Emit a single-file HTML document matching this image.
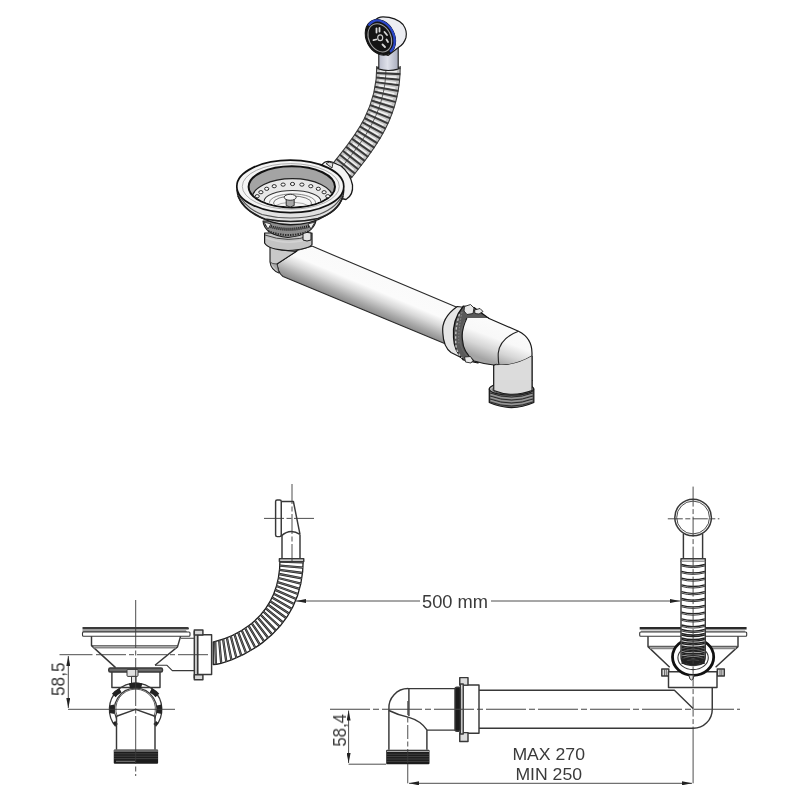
<!DOCTYPE html>
<html><head><meta charset="utf-8">
<style>
html,body{margin:0;padding:0;background:#fff;width:800px;height:800px;overflow:hidden}
svg{display:block}
text{font-family:"Liberation Sans",sans-serif;fill:#3a3a3a}
#texts{will-change:transform}
</style></head><body>
<svg width="800" height="800" viewBox="0 0 800 800">
<defs>
  <linearGradient id="pipeG" gradientUnits="userSpaceOnUse" x1="370" y1="270.6" x2="355" y2="306.2">
    <stop offset="0" stop-color="#fafafa"/>
    <stop offset="0.4" stop-color="#fbfbfb"/>
    <stop offset="0.62" stop-color="#d8d8d8"/>
    <stop offset="0.85" stop-color="#a8a8a8"/>
    <stop offset="1" stop-color="#8c8c8c"/>
  </linearGradient>
  <marker id="arr" viewBox="0 0 10 4" refX="10" refY="2" markerWidth="10" markerHeight="4" markerUnits="userSpaceOnUse" orient="auto">
    <path d="M0 0 L10 2 L0 4 Z" fill="#222"/>
  </marker>
  <marker id="arrS" viewBox="0 0 10 4" refX="0" refY="2" markerWidth="10" markerHeight="4" markerUnits="userSpaceOnUse" orient="auto">
    <path d="M10 0 L0 2 L10 4 Z" fill="#222"/>
  </marker>
  <linearGradient id="pipeG2" gradientUnits="userSpaceOnUse" x1="500" y1="323" x2="486" y2="360">
    <stop offset="0" stop-color="#fbfbfb"/>
    <stop offset="0.4" stop-color="#f8f8f8"/>
    <stop offset="0.7" stop-color="#d6d6d6"/>
    <stop offset="1" stop-color="#a4a4a4"/>
  </linearGradient>
  <linearGradient id="neckG" x1="0" y1="0" x2="1" y2="0">
    <stop offset="0" stop-color="#b9bccb"/>
    <stop offset="0.45" stop-color="#dfe1ea"/>
    <stop offset="1" stop-color="#a9adbd"/>
  </linearGradient>
</defs>

<!-- ============ BOTTOM DRAWINGS ============ -->
<g id="bottom" fill="none" stroke="#383838" stroke-width="1.45" stroke-linejoin="round">
  <!-- ===== LEFT SINK SIDE VIEW ===== -->
  <path d="M82.5 626.9 H187.5 Q189.8 627.4 188.5 629.6 H82.5 Z" fill="#3a3a3a" stroke="none"/>
  <path d="M82.5 630.5 H186 L187 631.7 H82.5 Z" fill="#444" stroke="none"/>
  <rect x="82.5" y="632" width="107.5" height="4.3" rx="1" stroke-width="1.1"/>
  <path d="M91.5 636.3 V645.6 L115.6 667.6 M155 665.3 L177.5 646.9 L180.6 636.3"/>
  <path d="M92 645.8 H178" stroke-width="1"/>
  <path d="M93.5 647.6 H176" stroke="#888" stroke-width="2"/>
  <path d="M181 638.2 H194.3 M155 665.3 H167 L172.3 670.6 H194.3" stroke-width="1.1"/>
  <rect x="108.75" y="668" width="53.75" height="4" rx="1.5" fill="#6a6a6a"/>
  <path d="M111.9 672 V687.5 H160 V672"/>
  <rect x="127" y="669.4" width="11" height="7" rx="1" fill="#e0e0e0" stroke-width="1"/>
  <rect x="131.5" y="676.4" width="4.5" height="8" fill="#e8e8e8" stroke-width="1"/>
  <rect x="130.5" y="683" width="7" height="3.5" fill="#222" stroke="none"/>
  <!-- ring -->
  <path d="M115.6 726.3 A26.2 26.2 0 1 1 155.6 726.3" stroke-width="1.3"/>
  <path d="M116.5 718.6 A21.2 21.2 0 1 1 154.7 718.6" stroke-width="1.2"/>
  <path d="M117.3 716.5 A19.8 19.8 0 1 1 153.9 716.5" stroke-width="0.8"/>
  <g stroke="#222" stroke-width="5">
    <path d="M129.5 685.9 A23.8 23.8 0 0 1 141.7 685.9"/>
    <path d="M113.8 695.5 A23.8 23.8 0 0 1 120.4 690.3"/>
    <path d="M111.8 705 A23.8 23.8 0 0 1 112 713.5"/>
    <path d="M150.8 690.3 A23.8 23.8 0 0 1 157.4 695.5"/>
    <path d="M159.2 705 A23.8 23.8 0 0 1 159.2 713.5"/>
    <path d="M114 722 A23.8 23.8 0 0 0 116.8 725" stroke-width="3"/>
    <path d="M157.2 722 A23.8 23.8 0 0 1 154.4 725" stroke-width="3"/>
  </g>
  <path d="M116.5 716.3 L135.6 709.4 L155 716.3 M116.5 716 V749.4 M155 716 V749.4"/>
  <rect x="113.75" y="749.4" width="44.35" height="14.4" rx="1" fill="#1c1c1c" stroke="none"/>
  <path d="M114 751 H158" stroke="#aaa" stroke-width="1.2"/><path d="M114 753.8 H158" stroke="#5a5a5a" stroke-width="0.6"/><path d="M114 756.2 H158" stroke="#5a5a5a" stroke-width="0.6"/><path d="M114 758.6 H158" stroke="#5a5a5a" stroke-width="0.6"/>
  <path d="M116 761.3 H135" stroke="#999" stroke-width="0.8"/>
  <!-- fitting -->
  <rect x="197.6" y="634.7" width="14" height="39.8" fill="#fff"/>
  <rect x="194.3" y="631.5" width="3.3" height="46.5" fill="#d0d0d0"/>
  <rect x="194.3" y="629.9" width="8.6" height="5" fill="#d8d8d8"/>
  <rect x="194.3" y="674.7" width="8.6" height="5" fill="#d8d8d8"/>
  <!-- hose BL -->
  <path d="M303.25 559.5 C303.25 641.2 224.6 664.5 213.25 664.5 L213.25 642 C211.8 642 280 631.15 280 559.5 Z" fill="#fff" stroke="#1e1e1e" stroke-width="1.3"/>
  <path d="M303.2 562.3 L280.0 561.6 M303.0 567.6 L279.8 565.7 M302.5 573.0 L279.5 569.8 M301.8 578.3 L279.0 574.0 M300.8 583.6 L278.3 578.0 M299.5 588.8 L277.5 582.1 M297.9 594.0 L276.4 586.0 M296.1 599.0 L275.2 589.9 M294.0 604.0 L273.7 593.8 M291.6 608.8 L272.0 597.6 M289.0 613.5 L270.2 601.2 M286.1 618.0 L268.1 604.8 M283.0 622.4 L265.8 608.3 M279.6 626.5 L263.3 611.5 M276.0 630.6 L260.7 614.7 M272.2 634.4 L257.9 617.7 M268.2 638.0 L254.9 620.6 M264.1 641.4 L251.8 623.3 M259.8 644.7 L248.6 625.8 M255.3 647.7 L245.2 628.2 M250.8 650.5 L241.7 630.4 M246.1 653.2 L238.2 632.5 M241.3 655.6 L234.5 634.4 M236.4 657.8 L230.8 636.2 M231.4 659.8 L226.9 637.8 M226.3 661.6 L223.1 639.2 M221.2 663.1 L219.2 640.4 M215.9 664.3 L215.2 641.5" stroke="#222" stroke-width="2.3"/><path d="M303.2 562.3 L280.0 561.6 M303.0 567.6 L279.8 565.7 M302.5 573.0 L279.5 569.8 M301.8 578.3 L279.0 574.0 M300.8 583.6 L278.3 578.0 M299.5 588.8 L277.5 582.1 M297.9 594.0 L276.4 586.0 M296.1 599.0 L275.2 589.9 M294.0 604.0 L273.7 593.8 M291.6 608.8 L272.0 597.6 M289.0 613.5 L270.2 601.2 M286.1 618.0 L268.1 604.8 M283.0 622.4 L265.8 608.3 M279.6 626.5 L263.3 611.5 M276.0 630.6 L260.7 614.7 M272.2 634.4 L257.9 617.7 M268.2 638.0 L254.9 620.6 M264.1 641.4 L251.8 623.3 M259.8 644.7 L248.6 625.8 M255.3 647.7 L245.2 628.2 M250.8 650.5 L241.7 630.4 M246.1 653.2 L238.2 632.5 M241.3 655.6 L234.5 634.4 M236.4 657.8 L230.8 636.2 M231.4 659.8 L226.9 637.8 M226.3 661.6 L223.1 639.2 M221.2 663.1 L219.2 640.4 M215.9 664.3 L215.2 641.5" stroke="#bbb" stroke-width="0.5"/>
  <!-- overflow head BL -->
  <rect x="275.6" y="500" width="5.65" height="36.6" rx="1.5" fill="#fff"/>
  <path d="M281.25 501.5 H293.4 L300 534.4 M281.25 536 Q290 528 300 534.4"/>
  <path d="M282 535 V559 M300 534.4 V559"/>
  <rect x="279.4" y="558.75" width="24.35" height="2.75" fill="#fff"/>

  <!-- ===== RIGHT SIDE ===== -->
  <circle cx="693.1" cy="517.5" r="18.3" stroke-width="1.5"/>
  <circle cx="693.1" cy="517.5" r="16.4" stroke-width="0.9"/>
  <path d="M683.4 533.4 V558.75 M702.6 533.4 V558.75"/>
  <rect x="681" y="558.75" width="24.3" height="2.75" fill="#fff"/>
  <!-- flange -->
  <path d="M639.7 626.9 H746.6 V629.6 H639.7 Z" fill="#2a2a2a" stroke="none"/>
  <path d="M641 630.8 H745 V631.6 H641 Z" fill="#555" stroke="none"/>
  <rect x="639.7" y="632" width="107" height="4.3" rx="1" stroke-width="1.1"/>
  <path d="M648 636.3 V646.6 L669.7 667.2 M715.6 667.2 L738 646.6 V636.3"/>
  <path d="M648.5 646.3 H737.5" stroke-width="1"/>
  <path d="M650 648.2 H736" stroke="#888" stroke-width="2"/>
  <!-- nut -->
  <rect x="661.8" y="669" width="7" height="7" fill="#ddd"/>
  <path d="M664.5 669.5 V676 M666.3 669.5 V676" stroke-width="0.7"/>
  <rect x="717.3" y="669" width="7" height="7" fill="#ddd"/>
  <path d="M720 669.5 V676 M721.8 669.5 V676" stroke-width="0.7"/>
  <rect x="668.5" y="671.7" width="48.5" height="15.8" fill="#fff"/>
  <ellipse cx="693.1" cy="657" rx="20.6" ry="18.3" stroke="#111" stroke-width="2.8" fill="#fff"/>
  <ellipse cx="693.1" cy="657.8" rx="15.2" ry="11.8" stroke-width="1.1"/>
  <path d="M689 675.5 Q689.5 680 691.5 680 Q693.5 680 694 675.5" fill="#ddd" stroke-width="1"/>
  <!-- hose BR -->
  <path d="M681 561.5 V657 Q681 665.5 693.1 665.5 Q705.3 665.5 705.3 657 V561.5" fill="#fff" stroke-width="1.4"/>
  <g id="ribsBR" stroke="#222"><path d="M681.5 564.5 Q693 567.7 704.8 564.5" stroke-width="1.3"/><path d="M681.5 566.0 Q693 569.2 704.8 566.0" stroke-width="0.9"/><path d="M681.5 571.3 Q693 574.5 704.8 571.3" stroke-width="1.3"/><path d="M681.5 572.8 Q693 576.0 704.8 572.8" stroke-width="0.9"/><path d="M681.5 578.1 Q693 581.3 704.8 578.1" stroke-width="1.3"/><path d="M681.5 579.6 Q693 582.8 704.8 579.6" stroke-width="0.9"/><path d="M681.5 584.9 Q693 588.1 704.8 584.9" stroke-width="1.3"/><path d="M681.5 586.4 Q693 589.6 704.8 586.4" stroke-width="0.9"/><path d="M681.5 591.7 Q693 594.9 704.8 591.7" stroke-width="1.3"/><path d="M681.5 593.2 Q693 596.4 704.8 593.2" stroke-width="0.9"/><path d="M681.5 598.5 Q693 601.7 704.8 598.5" stroke-width="1.3"/><path d="M681.5 600.0 Q693 603.2 704.8 600.0" stroke-width="0.9"/><path d="M681.5 605.3 Q693 608.5 704.8 605.3" stroke-width="1.3"/><path d="M681.5 606.8 Q693 610.0 704.8 606.8" stroke-width="0.9"/><path d="M681.5 612.1 Q693 615.3 704.8 612.1" stroke-width="1.3"/><path d="M681.5 613.6 Q693 616.8 704.8 613.6" stroke-width="0.9"/><path d="M681.5 618.9 Q693 622.1 704.8 618.9" stroke-width="1.3"/><path d="M681.5 620.4 Q693 623.6 704.8 620.4" stroke-width="0.9"/><path d="M681.5 625.0 Q693 628.2 704.8 625.0" stroke-width="1.3"/><path d="M681.5 626.5 Q693 629.7 704.8 626.5" stroke-width="0.9"/><path d="M681.5 629.5 Q693 632.7 704.8 629.5" stroke-width="1.3"/><path d="M681.5 631.0 Q693 634.2 704.8 631.0" stroke-width="0.9"/><path d="M681.5 633.5 Q693 636.7 704.8 633.5" stroke-width="1.7"/><path d="M681.5 635.0 Q693 638.2 704.8 635.0" stroke-width="1.3"/><path d="M681.5 638.0 Q693 641.2 704.8 638.0" stroke-width="1.7"/><path d="M681.5 639.5 Q693 642.7 704.8 639.5" stroke-width="1.3"/><path d="M681.5 642.0 Q693 644.6 704.8 642.0" stroke-width="1.7"/><path d="M681.5 643.5 Q693 646.1 704.8 643.5" stroke-width="1.3"/><path d="M681.5 646.0 Q693 648.6 704.8 646.0" stroke-width="1.7"/><path d="M681.5 647.5 Q693 650.1 704.8 647.5" stroke-width="1.3"/><path d="M681.5 649.0 Q693 651.6 704.8 649.0" stroke-width="1.7"/><path d="M681.5 650.5 Q693 653.1 704.8 650.5" stroke-width="1.3"/><path d="M681.5 652.6 Q693 655.2 704.8 652.6" stroke-width="1.7"/><path d="M681.5 654.1 Q693 656.7 704.8 654.1" stroke-width="1.3"/><path d="M681.5 656.0 Q693 658.6 704.8 656.0" stroke-width="1.7"/><path d="M681.5 657.5 Q693 660.1 704.8 657.5" stroke-width="1.3"/><path d="M681.5 658.8 Q693 661.4 704.8 658.8" stroke-width="1.7"/><path d="M681.5 660.3 Q693 662.9 704.8 660.3" stroke-width="1.3"/><path d="M681.5 661.6 Q693 664.2 704.8 661.6" stroke-width="1.7"/><path d="M681.5 663.1 Q693 665.7 704.8 663.1" stroke-width="1.3"/></g>
  <path d="M684 660 Q693 668 702 660" stroke="#222" stroke-width="2.5"/>
  <!-- pipe -->
  <path d="M479 690.3 H674.4 L693.1 708.4"/>
  <path d="M712.25 687.8 V709.4 A19 19 0 0 1 693.2 728.3 H479"/>
  <!-- elbow -->
  <path d="M455.35 688.6 H408.2 A19.3 19.3 0 0 0 388.9 709.2 V749.75"/>
  <path d="M408.9 688.6 V716"/>
  <path d="M388.9 710.5 C395 713.5 402 716 408.9 717.4 C418 720 423.5 725 426.9 729.8 V749.75 M427 730.1 H455"/>
  <rect x="386.2" y="749.75" width="43.3" height="14.45" rx="1" fill="#1c1c1c" stroke="none"/>
  <path d="M387 751.3 H429" stroke="#aaa" stroke-width="1.2"/><path d="M386.5 754.2 H429" stroke="#5a5a5a" stroke-width="0.6"/><path d="M386.5 756.6 H429" stroke="#5a5a5a" stroke-width="0.6"/><path d="M386.5 759.0 H429" stroke="#5a5a5a" stroke-width="0.6"/><path d="M386.5 761.4 H429" stroke="#5a5a5a" stroke-width="0.6"/>
  <!-- coupling -->
  <rect x="462.5" y="685" width="16.5" height="48.25" fill="#fff"/>
  <rect x="459.75" y="677.6" width="8.25" height="7.5" fill="#ddd"/>
  <rect x="459.75" y="732.6" width="8.25" height="8.9" fill="#ddd"/>
  <rect x="460.4" y="684" width="2.8" height="50" fill="#eee"/>
  <rect x="455" y="687.2" width="5.4" height="44" rx="2" fill="#1c1c1c"/>
  <!-- ===== centerlines / dims (thin) ===== -->
  <g stroke="#3a3a3a" stroke-width="0.9">
    <path d="M135.7 600 V776" stroke-dasharray="48 2.5 5 2.5"/>
    <path d="M59.5 654.7 H92.5"/>
    <path d="M96 654.7 H212" stroke-dasharray="30 3 5 3"/>
    <path d="M68 709.3 H175"/>
    <path d="M68.3 656 V708" marker-start="url(#arrS)" marker-end="url(#arr)"/>
    <path d="M292 484 V561" stroke-dasharray="20 2.5 5 2.5"/>
    <path d="M264 518.4 H315" stroke-dasharray="20 2.5 5 2.5"/>
    <path d="M296 601 H420" marker-start="url(#arrS)"/>
    <path d="M491 601 H680" marker-end="url(#arr)"/>
    <path d="M693.1 486.6 V728" stroke-dasharray="20 2.5 5 2.5"/>
    <path d="M693.1 728 V783.3"/>
    <path d="M667.8 518.8 H719.4" stroke-dasharray="15 2.5 5 2.5"/>
    <path d="M330 709.2 H740" stroke-dasharray="40 3 6 3" stroke="#444" stroke-width="1.15"/>
    <path d="M348.6 710.5 V763" marker-start="url(#arrS)" marker-end="url(#arr)"/>
    <path d="M348.6 764.2 H386.2"/>
    <path d="M407.75 701 V764" stroke-dasharray="14 2.5 5 2.5"/><path d="M407.75 764 V783.3"/>
    <path d="M409 783.3 H692" marker-start="url(#arrS)" marker-end="url(#arr)"/>
  </g>

</g>


<g id="texts" font-size="18">
  <text x="422" y="608" textLength="66" lengthAdjust="spacingAndGlyphs">500 mm</text>
  <text x="512.4" y="759.6" font-size="17.3" textLength="72.6" lengthAdjust="spacingAndGlyphs">MAX 270</text>
  <text x="515.4" y="780" font-size="17.3" textLength="66.6" lengthAdjust="spacingAndGlyphs">MIN 250</text>
  <text transform="translate(64.5 696) rotate(-90)" font-size="18.5" textLength="33.5" lengthAdjust="spacingAndGlyphs">58,5</text>
  <text transform="translate(346 746.6) rotate(-90)" font-size="18.5" textLength="32.6" lengthAdjust="spacingAndGlyphs">58,4</text>
</g>
<!-- ============ TOP 3D RENDER ============ -->
<g id="top" stroke-linejoin="round">
  <!-- long pipe -->
  <path d="M277 262 L297 250.5 L311.9 246.1 L461 309 L447 344.5 L283 276.5 Q277 272 277 262 Z" fill="url(#pipeG)" stroke="#2a2a2a" stroke-width="1.1"/>
  <path d="M277 264 L297 251" stroke="#333" stroke-width="1" fill="none"/>
  <!-- elbow under strainer -->
  <path d="M270 246 V262 Q271 270 279 273 L277 264 L297 251 Q284 252 270 246 Z" fill="#c9c9c9" stroke="#1a1a1a" stroke-width="1.1"/>
  <path d="M270 262 Q272 264 277 264 L279 273" fill="#a8a8a8" stroke="#333" stroke-width="0.8"/>
  <!-- cylinder under strainer -->
  <path d="M264.6 233 V243 Q268 249.5 288 250.5 Q308 249.5 312 244.5 V233 Z" fill="#c4c4c4" stroke="#1a1a1a" stroke-width="1.2"/>
  <path d="M265 235 Q288 243.5 311.5 235.5" fill="none" stroke="#444" stroke-width="1"/>
  <path d="M266 238 Q288 246 311 238.5" fill="none" stroke="#d8d8d8" stroke-width="1.5" opacity="0.7"/>
  <!-- nut under rim -->
  <path d="M263 221 Q264 235 288 237.5 Q313 235 316 221 Z" fill="#8c8c8c" stroke="#1a1a1a" stroke-width="1.1"/>
  <path d="M265 224.5 Q288 234 314 224.5" fill="none" stroke="#1e1e1e" stroke-width="3" stroke-dasharray="1.1 0.9"/>
  <path d="M268 231 Q288 239 310 231" fill="none" stroke="#2a2a2a" stroke-width="2" stroke-dasharray="1.4 1.1"/>
  <path d="M264 222 L268 229 L271 224 Z M315 222 L311 229 L308 224 Z" fill="#f0f0f0" stroke="#222" stroke-width="0.8"/>
  <path d="M303 233.5 Q307 231.5 311 233 V240 Q307 242 303 240 Z" fill="#e4e4e4" stroke="#1a1a1a" stroke-width="1"/>
  <!-- hose top -->
  <path d="M342 171 C 358 150 389 118 388.5 66" fill="none" stroke="#3a3a3a" stroke-width="24.5"/>
  <path d="M342 171 C 358 150 389 118 388.5 66" fill="none" stroke="#c4c4c4" stroke-width="22.4"/>
  <path d="M342 171 C 358 150 389 118 388.5 66" fill="none" stroke="#3a3a3a" stroke-width="24" stroke-dasharray="2 3.2"/>
  <path d="M342 171 C 358 150 389 118 388.5 66" fill="none" stroke="#f2f2f2" stroke-width="17" stroke-dasharray="1.4 3.8" stroke-dashoffset="-2.4"/>
  <path d="M340 169.5 C 356 148.5 386.5 117 386 66" fill="none" stroke="#333" stroke-width="0.9" opacity="0.8"/>
  <!-- overflow neck -->
  <path d="M378.8 47 V69 Q388.5 72 398.2 69 V45 Z" fill="url(#neckG)" stroke="#1a1a1a" stroke-width="1.1"/>
  <!-- overflow head -->
  <path d="M374 21 Q378 16.8 383 16.8 Q396 17 403 24.5 Q407.5 31 406 37.5 Q404 44 399 47 L388 55.5 L376 50 Z" fill="#ecedf2" stroke="#1a1a1a" stroke-width="1.2"/>
  <ellipse cx="380.4" cy="37.3" rx="14.2" ry="18.6" transform="rotate(-27 380.4 37.3)" fill="#141414" stroke="#0e0e0e" stroke-width="1"/>
  <ellipse cx="380.6" cy="37.2" rx="13.1" ry="17.5" transform="rotate(-27 380.6 37.2)" fill="none" stroke="#2a46c8" stroke-width="2.3" pathLength="100" stroke-dasharray="54 46" stroke-dashoffset="-69"/>
  <ellipse cx="379.8" cy="37.8" rx="11" ry="14.8" transform="rotate(-27 379.8 37.8)" fill="none" stroke="#a0a0a0" stroke-width="1"/>
  <ellipse cx="380.2" cy="37.8" rx="2.5" ry="2.9" fill="none" stroke="#cfcfcf" stroke-width="1.2"/>
  <g stroke="#d8d8d8" stroke-width="1.8" stroke-linecap="round">
    <path d="M376.5 28.5 V32.5"/><path d="M379.5 28 V31.5"/>
    <path d="M384.5 32 L387 35"/><path d="M386.5 39.5 L388 42"/>
    <path d="M373.5 40.2 L376.2 39.5"/><path d="M382.5 44.5 L385 47"/>
  </g>
  <!-- connector -->
  <path d="M322 165 Q325 160 332 162 L341 166 Q350 173 352.5 185 Q353.5 195 346 199.5 L330 196 Z" fill="#f3f3f3" stroke="#1a1a1a" stroke-width="1.3"/>
  <path d="M326 163.5 Q329 161 333 163 L332 168 Z" fill="#ddd" stroke="#222" stroke-width="0.9"/>
  <!-- strainer rim -->
  <path d="M237 190 Q238 205 255 214 Q270 224.5 290.5 224.8 Q312 224.5 327 215 Q343 206 343.8 190 Z" fill="#e2e2e2" stroke="#1a1a1a" stroke-width="1.4"/>
  <path d="M238 196 Q246 213 265 219 Q278 221.5 290.5 221.5 Q305 221.5 318 218.5 Q338 212 343 196" fill="none" stroke="#222" stroke-width="1.7"/>
  <path d="M238 193 Q245 208 262 214.5 Q276 218 290.5 218 Q307 218 320 214 Q338 207 343 193" fill="none" stroke="#555" stroke-width="1.1"/>
  <ellipse cx="290.3" cy="186.4" rx="53.5" ry="26.2" fill="#f4f4f4" stroke="#111" stroke-width="1.7"/>
  <ellipse cx="290.8" cy="186.4" rx="48.5" ry="22.8" fill="none" stroke="#9a9a9a" stroke-width="0.8"/>
  <!-- opening -->
  <ellipse cx="291.8" cy="186.8" rx="43.2" ry="20.6" fill="#a4a4a4" stroke="#111" stroke-width="2"/>
  <clipPath id="openClip"><ellipse cx="291.8" cy="186.8" rx="42.2" ry="19.6"/></clipPath>
  <g clip-path="url(#openClip)">
    <ellipse cx="292.5" cy="198.5" rx="40.5" ry="19.8" fill="#e8e8e8" stroke="#222" stroke-width="1.3"/>
    <ellipse cx="292.5" cy="201.5" rx="28.5" ry="11" fill="#f6f6f6" stroke="#333" stroke-width="1.1"/>
    <ellipse cx="292.5" cy="202.5" rx="23" ry="8.6" fill="none" stroke="#777" stroke-width="0.9"/>
    <ellipse cx="292.5" cy="203" rx="19" ry="7" fill="none" stroke="#666" stroke-width="0.9"/>
    <path d="M270 208 Q292 196 314 208" fill="none" stroke="#999" stroke-width="0.8"/>
  </g>
  <g id="dots" fill="#fafafa" stroke="#2a2a2a" stroke-width="1"><ellipse cx="257.2" cy="196.2" rx="2.1" ry="1.6"/><ellipse cx="260.9" cy="192.2" rx="2.1" ry="1.6"/><ellipse cx="266.7" cy="188.8" rx="2.1" ry="1.6"/><ellipse cx="274.2" cy="186.2" rx="2.1" ry="1.6"/><ellipse cx="283.1" cy="184.6" rx="2.1" ry="1.6"/><ellipse cx="292.5" cy="184.0" rx="2.1" ry="1.6"/><ellipse cx="301.9" cy="184.6" rx="2.1" ry="1.6"/><ellipse cx="310.8" cy="186.2" rx="2.1" ry="1.6"/><ellipse cx="318.3" cy="188.8" rx="2.1" ry="1.6"/><ellipse cx="324.1" cy="192.2" rx="2.1" ry="1.6"/><ellipse cx="327.8" cy="196.2" rx="2.1" ry="1.6"/></g>
  <!-- knob -->
  <path d="M286.2 197.5 V205.5 Q290.2 208.5 294.2 205.5 V197.5 Z" fill="#a8a8a8" stroke="#222" stroke-width="0.9"/>
  <ellipse cx="290.2" cy="197.3" rx="6" ry="3" fill="#f4f4f4" stroke="#222" stroke-width="0.9"/>

  <!-- right coupling & elbow -->
  <!-- sleeve on long pipe -->
  <path d="M457.25 306.5 Q441 318 442.8 333 Q443.5 347 451 352.5 L464 359 L473 308.5 Z" fill="#e6e6e6" stroke="#1a1a1a" stroke-width="1.2"/>
  <!-- nut (dark ring) -->
  <path d="M463.4 306 Q452 320 453.5 337.4 Q454 351 463.4 360 L478 363 L489 318.5 L474 307.5 Z" fill="#5a5a5a" stroke="#111" stroke-width="1.2"/>
  <path d="M459.5 314 Q454.5 330 456 346 Q457 353 462 358" fill="none" stroke="#c8c8c8" stroke-width="1.3" stroke-dasharray="2.5 2"/><path d="M462 312 Q458 330 459 344" fill="none" stroke="#999" stroke-width="0.8" stroke-dasharray="1.5 1.5"/>
  <path d="M487.9 318 L518.5 331.25 Q532 338 532 353 V387.5 H493.75 V365 Q484 364 474 361 Q463 352 462.5 340 Q461 330 466.9 318 Z" fill="url(#pipeG2)" stroke="none"/>
  <path d="M487.9 318 L518.5 331.25 Q532 338 532 353 V387.5 M493.75 387.5 V365 Q484 364 474 361 Q463 352 462.5 340 Q461 330 466.9 318" fill="none" stroke="#1a1a1a" stroke-width="1.2"/>
  <path d="M465 320 Q459.5 332 460 340 Q460.5 351 470 359" fill="none" stroke="#666" stroke-width="1.2"/>
  <path d="M518.5 331.25 Q500 338 498.25 353 Q498 360 499 365 Q515 366 532 356" fill="none" stroke="#222" stroke-width="1.1"/>
  <path d="M493.75 365 Q496 363.5 499 365" fill="none" stroke="#222" stroke-width="1"/>
  <path d="M493.75 366 V381 H532 V356 Q515 366 499 365 Z" fill="#dcdcdc" stroke="none"/>
  <path d="M493.75 365 V381 M532 356 V381" fill="none" stroke="#1a1a1a" stroke-width="1.1"/>
  <!-- tabs -->
  <path d="M464.5 306.5 L470.5 304.5 L474 308 L473 313.5 L467 314.5 L464 311 Z" fill="#e8e8e8" stroke="#222" stroke-width="0.9"/>
  <path d="M474.5 310 L480 308.5 L483 311.5 L479 314 L475 313.5 Z" fill="#e8e8e8" stroke="#222" stroke-width="0.9"/>
  <path d="M464.5 357 L470.5 356.5 L473 360.5 L471 363 L465.5 362 Z" fill="#e8e8e8" stroke="#222" stroke-width="0.9"/>
  <!-- threaded nut bottom -->
  <path d="M489.3 389 V402.5 Q511.5 412.5 533.8 402.5 V389 Z" fill="#7c7c7c" stroke="#1a1a1a" stroke-width="1.3"/>
  <g fill="none" stroke="#2a2a2a" stroke-width="1">
    <path d="M490 393 Q511.5 401 533 393"/>
    <path d="M490 396 Q511.5 404 533 396"/>
    <path d="M490 399 Q511.5 407 533 399"/>
    <path d="M490 402 Q511.5 410 533 402"/>
  </g>
  <g fill="none" stroke="#aaa" stroke-width="0.7">
    <path d="M491 394.5 Q511.5 402.5 532 394.5"/>
    <path d="M491 397.5 Q511.5 405.5 532 397.5"/>
    <path d="M491 400.5 Q511.5 408.5 532 400.5"/>
  </g>
  <ellipse cx="511.5" cy="389" rx="22.2" ry="6.2" fill="#b4b4b4" stroke="#1a1a1a" stroke-width="1.2"/>
  <ellipse cx="511.8" cy="389.5" rx="19.5" ry="5" fill="none" stroke="#444" stroke-width="0.8"/>
  <path d="M493.75 380 V390.5 Q512 398 532 390.5 V380 Z" fill="#dadada" stroke="none"/>
  <path d="M493.75 380 V390.5 Q512 398 532 390.5 V380" fill="none" stroke="#1a1a1a" stroke-width="1.1"/>
  <!-- connector (behind rim right) -->
</g>
</svg>
</body></html>
